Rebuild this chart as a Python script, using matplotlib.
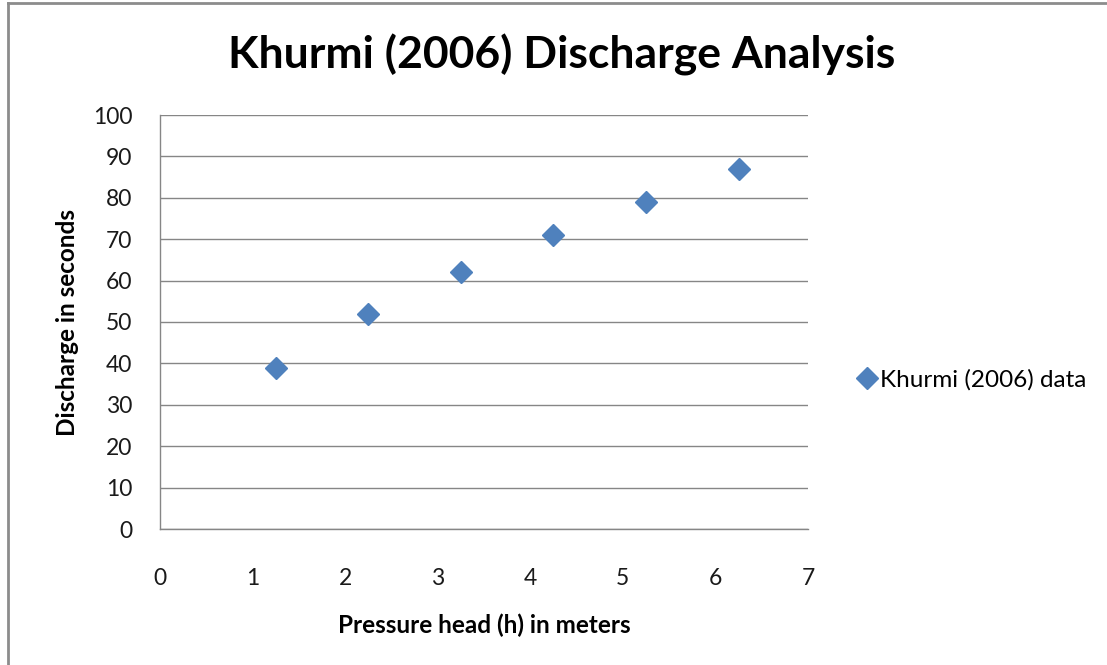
import matplotlib
matplotlib.use("Agg")
import matplotlib.pyplot as plt
from matplotlib.lines import Line2D

# data
pressure_head = [1.25, 2.25, 3.25, 4.25, 5.25, 6.25]
discharge = [39, 52, 62, 71, 79, 87]
x_ticks = [0, 1, 2, 3, 4, 5, 6, 7]
y_ticks = [0, 10, 20, 30, 40, 50, 60, 70, 80, 90, 100]

plt.rcParams['font.family'] = ['Lato', 'DejaVu Sans']

fig = plt.figure(figsize=(11.07, 6.65), dpi=100)
ax = fig.add_axes([160 / 1107, 136 / 665, 648 / 1107, 414 / 665])

ax.plot(pressure_head, discharge, linestyle='none', marker='D', markersize=11,
        color='#4F81BD', label='Khurmi (2006) data')

ax.set_xlim(0, 7)
ax.set_ylim(0, 100)
ax.set_xticks(x_ticks)
ax.set_yticks(y_ticks)
ax.tick_params(axis='both', length=0, labelsize=16.5, colors='#1a1a1a')
ax.tick_params(axis='y', pad=20)
ax.tick_params(axis='x', pad=28)
ax.grid(axis='y', color='#868686', linewidth=1)
ax.set_axisbelow(True)
for side in ['top', 'right']:
    ax.spines[side].set_visible(False)
for side in ['left', 'bottom']:
    ax.spines[side].set_color('#868686')
    ax.spines[side].set_linewidth(1)

fig.text(562 / 1107, 1 - 55 / 665, 'Khurmi (2006) Discharge Analysis',
         fontsize=32, fontweight='bold', ha='center', va='center')
ax.set_xlabel('Pressure head (h) in meters', fontsize=17.5, fontweight='bold', labelpad=18)
ax.set_ylabel('Discharge in seconds', fontsize=17.5, fontweight='bold', labelpad=10)

ax.legend(loc='center left', bbox_to_anchor=(1.04, 0.36), frameon=False, fontsize=17.5,
          handletextpad=0.1, handlelength=0.9)

# outer chart border (only left and top edges are visible in the crop)
fig.add_artist(Line2D([8 / 1107, 8 / 1107], [0, 1 - 3 / 665], transform=fig.transFigure,
                      color='#8c8c8c', linewidth=2))
fig.add_artist(Line2D([8 / 1107, 1], [1 - 3 / 665, 1 - 3 / 665], transform=fig.transFigure,
                      color='#8c8c8c', linewidth=2))

fig.savefig('out.png', dpi=100)
